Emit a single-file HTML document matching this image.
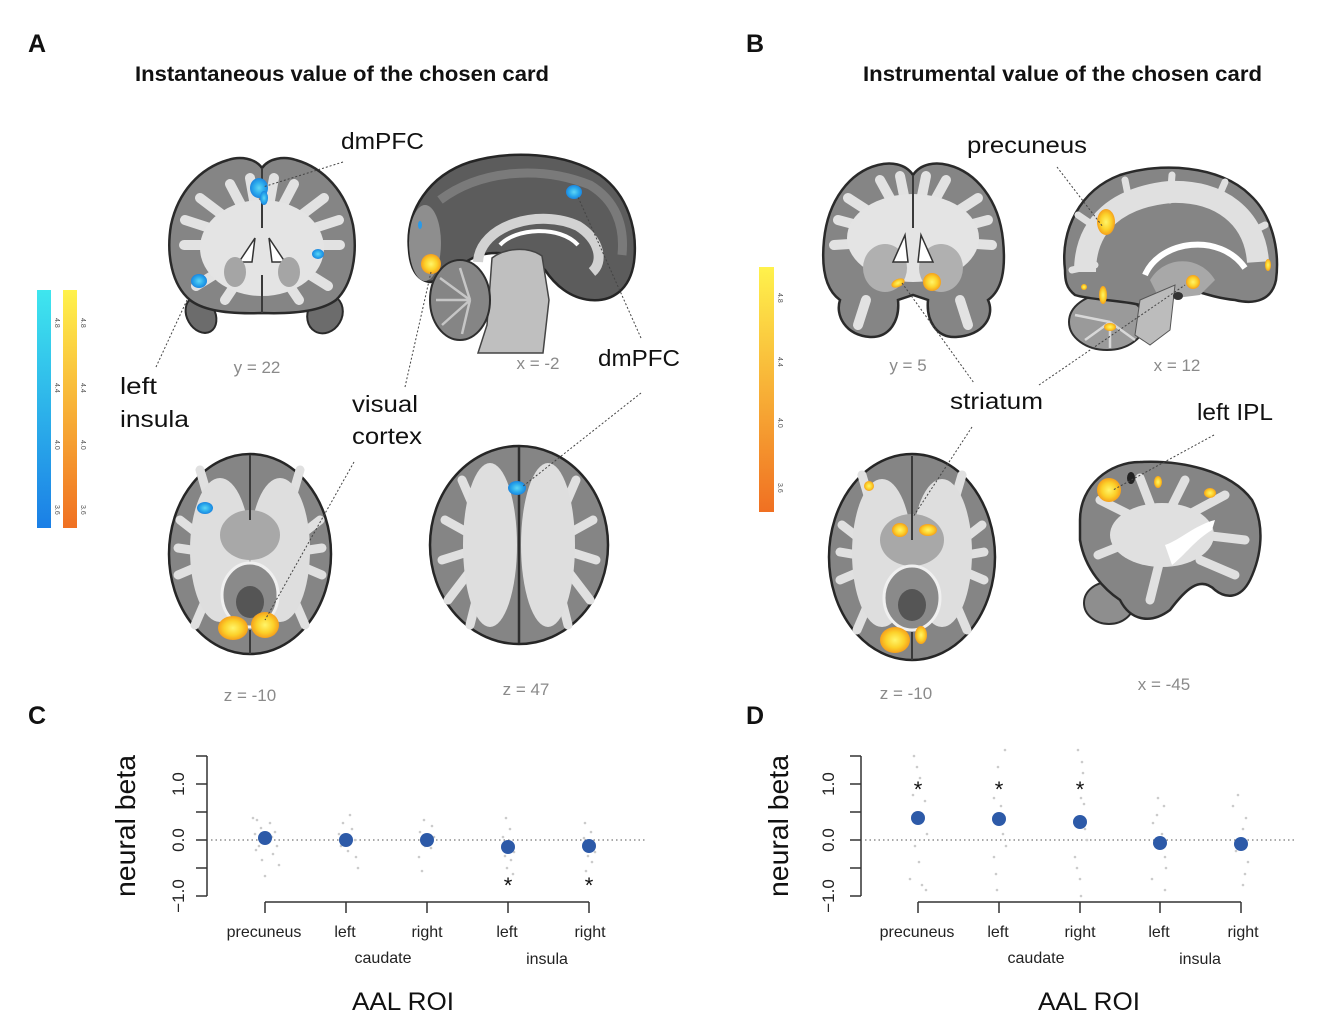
<!DOCTYPE html>
<html><head><meta charset="utf-8"><style>
html,body{margin:0;padding:0;background:#fff;}
svg{display:block;font-family:"Liberation Sans",Arial,sans-serif;}
</style></head><body>
<svg width="1318" height="1032" viewBox="0 0 1318 1032" xmlns="http://www.w3.org/2000/svg">
<defs>
<linearGradient id="gb" x1="0" y1="0" x2="0" y2="1"><stop offset="0" stop-color="#3fe6ee"/><stop offset="1" stop-color="#1b7fe6"/></linearGradient>
<linearGradient id="go" x1="0" y1="0" x2="0" y2="1"><stop offset="0" stop-color="#fff24c"/><stop offset="1" stop-color="#f07022"/></linearGradient>
<radialGradient id="ry"><stop offset="0" stop-color="#fff56a"/><stop offset="0.6" stop-color="#fcd12a"/><stop offset="1" stop-color="#f5a01c"/></radialGradient>
<radialGradient id="rb"><stop offset="0" stop-color="#5fd6f5"/><stop offset="0.6" stop-color="#2aa9ec"/><stop offset="1" stop-color="#1c86df"/></radialGradient>
</defs>
<rect width="1318" height="1032" fill="#fff"/>

<text x="28" y="52" font-size="25" font-weight="bold" fill="#111">A</text>
<text x="746" y="52" font-size="25" font-weight="bold" fill="#111">B</text>
<text x="28" y="724" font-size="25" font-weight="bold" fill="#111">C</text>
<text x="746" y="724" font-size="25" font-weight="bold" fill="#111">D</text>
<text x="135" y="81" font-size="21" font-weight="bold" fill="#111" textLength="414" lengthAdjust="spacingAndGlyphs">Instantaneous value of the chosen card</text>
<text x="863" y="81" font-size="21" font-weight="bold" fill="#111" textLength="399" lengthAdjust="spacingAndGlyphs">Instrumental value of the chosen card</text>

<rect x="37" y="290" width="14" height="238" fill="url(#gb)"/>
<rect x="63" y="290" width="14" height="238" fill="url(#go)"/>
<g font-size="7" fill="#555">
<text transform="translate(55,318) rotate(90)">4.8</text>
<text transform="translate(55,383) rotate(90)">4.4</text>
<text transform="translate(55,440) rotate(90)">4.0</text>
<text transform="translate(55,505) rotate(90)">3.6</text>
<text transform="translate(81,318) rotate(90)">4.8</text>
<text transform="translate(81,383) rotate(90)">4.4</text>
<text transform="translate(81,440) rotate(90)">4.0</text>
<text transform="translate(81,505) rotate(90)">3.6</text>
</g>
<rect x="759" y="267" width="15" height="245" fill="url(#go)"/>
<g font-size="7" fill="#555">
<text transform="translate(778,293) rotate(90)">4.8</text>
<text transform="translate(778,357) rotate(90)">4.4</text>
<text transform="translate(778,418) rotate(90)">4.0</text>
<text transform="translate(778,483) rotate(90)">3.6</text>
</g>

<!-- Coronal A -->
<g>
<ellipse cx="201" cy="315" rx="14" ry="19" transform="rotate(-30 201 315)" fill="#6c6c6c" stroke="#2a2a2a" stroke-width="2"/>
<ellipse cx="325" cy="314" rx="17" ry="20" transform="rotate(30 325 314)" fill="#6c6c6c" stroke="#2a2a2a" stroke-width="2"/>
<path d="M262,168 C255,158 240,156 228,160 C200,168 178,192 171,225 C166,255 172,285 190,300 C205,312 235,314 262,313 C290,314 320,312 336,300 C352,285 358,255 353,225 C346,192 324,168 296,160 C284,156 269,158 262,168 Z" fill="#858585" stroke="#2a2a2a" stroke-width="2.5"/>
<g stroke="#e2e2e2" stroke-width="10" stroke-linecap="round">
<line x1="262" y1="245" x2="200" y2="198"/><line x1="262" y1="245" x2="184" y2="245"/><line x1="262" y1="245" x2="196" y2="286"/>
<line x1="262" y1="245" x2="230" y2="184"/><line x1="262" y1="245" x2="250" y2="178"/><line x1="262" y1="245" x2="185" y2="220"/>
<line x1="262" y1="245" x2="324" y2="198"/><line x1="262" y1="245" x2="340" y2="245"/><line x1="262" y1="245" x2="328" y2="286"/>
<line x1="262" y1="245" x2="294" y2="184"/><line x1="262" y1="245" x2="274" y2="178"/><line x1="262" y1="245" x2="339" y2="220"/>
<line x1="262" y1="245" x2="225" y2="300"/><line x1="262" y1="245" x2="299" y2="300"/>
</g>
<ellipse cx="262" cy="248" rx="62" ry="48" fill="#e4e4e4"/>
<line x1="262" y1="168" x2="262" y2="228" stroke="#3a3a3a" stroke-width="2"/>
<line x1="262" y1="275" x2="262" y2="313" stroke="#3a3a3a" stroke-width="2"/>
<path d="M255,238 L239,262 L252,262 Z" fill="#fff" stroke="#333" stroke-width="1.5"/>
<path d="M269,238 L285,262 L272,262 Z" fill="#fff" stroke="#333" stroke-width="1.5"/>
<ellipse cx="235" cy="272" rx="11" ry="15" fill="#a5a5a5"/>
<ellipse cx="289" cy="272" rx="11" ry="15" fill="#a5a5a5"/>
<ellipse cx="259" cy="188" rx="9" ry="10" fill="url(#rb)"/>
<ellipse cx="264" cy="198" rx="4" ry="7" fill="url(#rb)"/>
<ellipse cx="199" cy="281" rx="8" ry="7" fill="url(#rb)"/>
<ellipse cx="318" cy="254" rx="6" ry="5" fill="url(#rb)"/>
</g>

<!-- Sagittal A -->
<g>
<path d="M409,250 C405,210 430,175 470,162 C510,150 565,152 600,175 C628,195 638,230 634,262 C630,290 612,302 590,300 C570,298 555,285 545,270 C530,255 500,250 480,255 C460,262 445,280 430,282 C415,280 410,265 409,250 Z" fill="#5c5c5c" stroke="#262626" stroke-width="2.5"/>
<path d="M440,200 C480,170 540,165 590,185 C615,200 625,225 622,255" fill="none" stroke="#7a7a7a" stroke-width="9"/>
<ellipse cx="425" cy="243" rx="16" ry="38" fill="#8e8e8e"/>
<path d="M478,262 C480,225 540,208 578,226 C600,240 604,262 592,272" fill="none" stroke="#d2d2d2" stroke-width="10"/>
<path d="M500,245 C515,228 560,225 578,245" fill="none" stroke="#ffffff" stroke-width="4"/>
<path d="M492,258 C505,248 528,246 542,256 L549,300 L543,353 L478,353 L487,325 Z" fill="#bfbfbf" stroke="#444" stroke-width="1.5"/>
<ellipse cx="460" cy="300" rx="30" ry="40" fill="#858585" stroke="#2e2e2e" stroke-width="2"/>
<g stroke="#c6c6c6" stroke-width="2.5">
<line x1="470" y1="300" x2="440" y2="278"/><line x1="470" y1="300" x2="436" y2="300"/><line x1="470" y1="300" x2="442" y2="325"/><line x1="470" y1="300" x2="460" y2="268"/><line x1="470" y1="300" x2="462" y2="334"/>
</g>
<ellipse cx="431" cy="264" rx="10" ry="10" fill="url(#ry)"/>
<ellipse cx="574" cy="192" rx="8" ry="7" fill="url(#rb)"/>
<ellipse cx="420" cy="225" rx="2" ry="4" fill="#2a9ae8"/>
</g>

<!-- Axial A z=-10 -->
<g>
<ellipse cx="250" cy="554" rx="81" ry="100" fill="#858585" stroke="#262626" stroke-width="2.5"/>
<g stroke="#e0e0e0" stroke-width="9" stroke-linecap="round">
<line x1="225" y1="555" x2="180" y2="520"/><line x1="225" y1="555" x2="178" y2="575"/><line x1="225" y1="555" x2="200" y2="470"/><line x1="225" y1="555" x2="195" y2="625"/><line x1="225" y1="555" x2="178" y2="548"/>
<line x1="275" y1="555" x2="320" y2="520"/><line x1="275" y1="555" x2="322" y2="575"/><line x1="275" y1="555" x2="300" y2="470"/><line x1="275" y1="555" x2="305" y2="625"/><line x1="275" y1="555" x2="322" y2="548"/>
</g>
<ellipse cx="220" cy="550" rx="30" ry="72" fill="#dedede"/>
<ellipse cx="280" cy="550" rx="30" ry="72" fill="#dedede"/>
<ellipse cx="250" cy="535" rx="30" ry="25" fill="#a8a8a8"/>
<ellipse cx="250" cy="595" rx="28" ry="32" fill="#8a8a8a" stroke="#f0f0f0" stroke-width="3"/>
<ellipse cx="250" cy="602" rx="14" ry="16" fill="#555"/>
<line x1="250" y1="455" x2="250" y2="520" stroke="#3a3a3a" stroke-width="2"/>
<line x1="250" y1="630" x2="250" y2="654" stroke="#3a3a3a" stroke-width="2"/>
<ellipse cx="233" cy="628" rx="15" ry="12" fill="url(#ry)"/>
<ellipse cx="265" cy="625" rx="14" ry="13" fill="url(#ry)"/>
<ellipse cx="205" cy="508" rx="8" ry="6" fill="url(#rb)"/>
</g>

<!-- Axial A z=47 -->
<g>
<ellipse cx="519" cy="545" rx="89" ry="99" fill="#858585" stroke="#262626" stroke-width="2.5"/>
<g stroke="#e0e0e0" stroke-width="9" stroke-linecap="round">
<line x1="490" y1="545" x2="445" y2="520"/><line x1="490" y1="545" x2="442" y2="560"/><line x1="490" y1="545" x2="448" y2="600"/><line x1="490" y1="545" x2="462" y2="480"/><line x1="490" y1="545" x2="470" y2="625"/>
<line x1="548" y1="545" x2="593" y2="520"/><line x1="548" y1="545" x2="596" y2="560"/><line x1="548" y1="545" x2="590" y2="600"/><line x1="548" y1="545" x2="576" y2="480"/><line x1="548" y1="545" x2="568" y2="625"/>
</g>
<ellipse cx="490" cy="545" rx="27" ry="82" fill="#dedede"/>
<ellipse cx="548" cy="545" rx="27" ry="82" fill="#dedede"/>
<line x1="519" y1="447" x2="519" y2="643" stroke="#2e2e2e" stroke-width="2.5"/>
<ellipse cx="517" cy="488" rx="9" ry="7" fill="url(#rb)"/>
</g>

<!-- Coronal B -->
<g>
<path d="M913,175 C905,163 890,162 878,165 C850,172 828,200 824,240 C821,270 826,290 840,300 C835,315 845,335 870,337 C890,338 900,320 898,300 L913,295 L928,300 C926,320 936,338 956,337 C985,335 995,315 988,300 C1002,290 1006,270 1003,240 C999,200 976,172 948,165 C936,162 921,163 913,175 Z" fill="#858585" stroke="#2a2a2a" stroke-width="2.5"/>
<g stroke="#e2e2e2" stroke-width="10" stroke-linecap="round">
<line x1="913" y1="240" x2="848" y2="198"/><line x1="913" y1="240" x2="834" y2="245"/><line x1="913" y1="240" x2="880" y2="180"/><line x1="913" y1="240" x2="900" y2="176"/><line x1="913" y1="240" x2="838" y2="220"/>
<line x1="913" y1="240" x2="978" y2="198"/><line x1="913" y1="240" x2="992" y2="245"/><line x1="913" y1="240" x2="946" y2="180"/><line x1="913" y1="240" x2="926" y2="176"/><line x1="913" y1="240" x2="988" y2="220"/>
<line x1="866" y1="300" x2="858" y2="325"/><line x1="960" y1="300" x2="968" y2="325"/>
</g>
<ellipse cx="913" cy="238" rx="66" ry="44" fill="#e4e4e4"/>
<ellipse cx="885" cy="268" rx="22" ry="24" fill="#b0b0b0"/>
<ellipse cx="941" cy="268" rx="22" ry="24" fill="#b0b0b0"/>
<line x1="913" y1="175" x2="913" y2="228" stroke="#3a3a3a" stroke-width="2"/>
<path d="M905,235 L893,262 L908,262 Z" fill="#fff" stroke="#333" stroke-width="1.5"/>
<path d="M921,235 L933,262 L918,262 Z" fill="#fff" stroke="#333" stroke-width="1.5"/>
<ellipse cx="898" cy="283" rx="7" ry="4" transform="rotate(-25 898 283)" fill="url(#ry)"/>
<ellipse cx="932" cy="282" rx="9" ry="9" fill="url(#ry)"/>
</g>

<!-- Sagittal B -->
<g>
<ellipse cx="1107" cy="322" rx="38" ry="28" fill="#9a9a9a" stroke="#2e2e2e" stroke-width="2"/>
<g stroke="#d8d8d8" stroke-width="2.5">
<line x1="1110" y1="322" x2="1075" y2="315"/><line x1="1110" y1="322" x2="1085" y2="340"/><line x1="1110" y1="322" x2="1110" y2="348"/><line x1="1110" y1="322" x2="1135" y2="340"/>
</g>
<path d="M1065,270 C1060,230 1080,190 1120,175 C1160,162 1220,165 1250,195 C1272,215 1280,250 1276,280 C1272,300 1255,305 1235,300 C1215,298 1200,292 1185,288 C1170,285 1150,300 1140,305 C1120,300 1090,300 1075,295 C1066,288 1065,280 1065,270 Z" fill="#858585" stroke="#2a2a2a" stroke-width="2.5"/>
<path d="M1085,272 C1085,222 1120,197 1170,192 C1220,190 1255,217 1258,262" fill="none" stroke="#e0e0e0" stroke-width="22"/>
<g stroke="#e0e0e0" stroke-width="7" stroke-linecap="round">
<line x1="1100" y1="230" x2="1078" y2="215"/><line x1="1130" y1="205" x2="1125" y2="180"/><line x1="1170" y1="200" x2="1172" y2="175"/><line x1="1215" y1="205" x2="1225" y2="182"/><line x1="1245" y1="235" x2="1265" y2="225"/><line x1="1095" y1="265" x2="1072" y2="270"/>
</g>
<path d="M1145,275 C1160,240 1220,232 1245,268" fill="none" stroke="#ffffff" stroke-width="6"/>
<path d="M1150,280 C1165,255 1200,255 1215,280 L1200,295 L1160,300 Z" fill="#a8a8a8"/>
<path d="M1140,300 L1175,285 L1170,330 L1150,345 L1135,335 Z" fill="#bcbcbc" stroke="#555" stroke-width="1"/>
<ellipse cx="1106" cy="222" rx="9" ry="13" fill="url(#ry)"/>
<ellipse cx="1103" cy="295" rx="4" ry="9" fill="url(#ry)"/>
<ellipse cx="1110" cy="327" rx="6" ry="4" fill="url(#ry)"/>
<ellipse cx="1193" cy="282" rx="7" ry="7" fill="url(#ry)"/>
<ellipse cx="1268" cy="265" rx="3" ry="6" fill="url(#ry)"/>
<ellipse cx="1084" cy="287" rx="3" ry="3" fill="url(#ry)"/>
<ellipse cx="1178" cy="296" rx="5" ry="4" fill="#333"/>
</g>

<!-- Axial B -->
<g>
<ellipse cx="912" cy="557" rx="83" ry="103" fill="#858585" stroke="#262626" stroke-width="2.5"/>
<g stroke="#e0e0e0" stroke-width="9" stroke-linecap="round">
<line x1="887" y1="560" x2="842" y2="525"/><line x1="887" y1="560" x2="840" y2="580"/><line x1="887" y1="560" x2="862" y2="475"/><line x1="887" y1="560" x2="857" y2="630"/><line x1="887" y1="560" x2="840" y2="552"/>
<line x1="937" y1="560" x2="982" y2="525"/><line x1="937" y1="560" x2="984" y2="580"/><line x1="937" y1="560" x2="962" y2="475"/><line x1="937" y1="560" x2="967" y2="630"/><line x1="937" y1="560" x2="984" y2="552"/>
</g>
<ellipse cx="882" cy="553" rx="30" ry="74" fill="#dedede"/>
<ellipse cx="942" cy="553" rx="30" ry="74" fill="#dedede"/>
<ellipse cx="912" cy="540" rx="32" ry="26" fill="#a8a8a8"/>
<ellipse cx="912" cy="598" rx="28" ry="32" fill="#8a8a8a" stroke="#f0f0f0" stroke-width="3"/>
<ellipse cx="912" cy="605" rx="14" ry="16" fill="#555"/>
<line x1="912" y1="456" x2="912" y2="540" stroke="#3a3a3a" stroke-width="2"/>
<line x1="912" y1="632" x2="912" y2="660" stroke="#3a3a3a" stroke-width="2"/>
<ellipse cx="869" cy="486" rx="5" ry="5" fill="url(#ry)"/>
<ellipse cx="900" cy="530" rx="8" ry="7" fill="url(#ry)"/>
<ellipse cx="928" cy="530" rx="9" ry="6" fill="url(#ry)"/>
<ellipse cx="895" cy="640" rx="15" ry="13" fill="url(#ry)"/>
<ellipse cx="921" cy="635" rx="6" ry="9" fill="url(#ry)"/>
</g>

<!-- Lateral sagittal B -->
<g>
<ellipse cx="1109" cy="603" rx="25" ry="21" fill="#8e8e8e" stroke="#2e2e2e" stroke-width="2"/>
<path d="M1080,520 C1080,485 1110,462 1140,462 C1180,460 1230,470 1252,500 C1265,525 1262,555 1250,580 C1240,600 1225,598 1215,590 C1200,575 1185,590 1170,610 C1150,625 1130,620 1120,600 C1105,590 1085,570 1080,540 Z" fill="#858585" stroke="#2a2a2a" stroke-width="2.5"/>
<g stroke="#e0e0e0" stroke-width="9" stroke-linecap="round">
<line x1="1160" y1="530" x2="1100" y2="500"/><line x1="1160" y1="530" x2="1140" y2="478"/><line x1="1160" y1="530" x2="1185" y2="480"/><line x1="1160" y1="530" x2="1225" y2="495"/><line x1="1160" y1="530" x2="1245" y2="540"/><line x1="1160" y1="530" x2="1098" y2="555"/><line x1="1160" y1="560" x2="1150" y2="600"/><line x1="1200" y1="560" x2="1235" y2="575"/>
</g>
<ellipse cx="1162" cy="535" rx="52" ry="32" fill="#e0e0e0"/>
<path d="M1165,545 C1180,540 1195,525 1215,520 L1212,530 C1195,540 1185,555 1172,565 Z" fill="#fff"/>
<ellipse cx="1109" cy="490" rx="12" ry="12" fill="url(#ry)"/>
<ellipse cx="1158" cy="482" rx="4" ry="6" fill="url(#ry)"/>
<ellipse cx="1210" cy="493" rx="6" ry="5" fill="url(#ry)"/>
<ellipse cx="1131" cy="478" rx="4" ry="6" fill="#222"/>
</g>

<g stroke="#444" stroke-width="1" stroke-dasharray="2,2" fill="none">
<line x1="343" y1="162" x2="263" y2="187"/>
<line x1="156" y1="367" x2="187" y2="300"/>
<line x1="405" y1="387" x2="431" y2="272"/>
<line x1="641" y1="338" x2="578" y2="197"/>
<line x1="641" y1="393" x2="522" y2="487"/>
<line x1="354" y1="462" x2="265" y2="620"/>
<line x1="1057" y1="167" x2="1103" y2="227"/>
<line x1="902" y1="283" x2="974" y2="383"/>
<line x1="1039" y1="385" x2="1185" y2="285"/>
<line x1="972" y1="427" x2="913" y2="517"/>
<line x1="1214" y1="435" x2="1113" y2="490"/>
</g>

<g font-size="23" fill="#111">
<text x="341" y="149" textLength="83" lengthAdjust="spacingAndGlyphs">dmPFC</text>
<text x="120" y="394" textLength="37" lengthAdjust="spacingAndGlyphs">left</text>
<text x="120" y="427" textLength="69" lengthAdjust="spacingAndGlyphs">insula</text>
<text x="352" y="412" textLength="66" lengthAdjust="spacingAndGlyphs">visual</text>
<text x="352" y="444" textLength="70" lengthAdjust="spacingAndGlyphs">cortex</text>
<text x="598" y="366" textLength="82" lengthAdjust="spacingAndGlyphs">dmPFC</text>
<text x="967" y="153" textLength="120" lengthAdjust="spacingAndGlyphs">precuneus</text>
<text x="950" y="409" textLength="93" lengthAdjust="spacingAndGlyphs">striatum</text>
<text x="1197" y="420" textLength="76" lengthAdjust="spacingAndGlyphs">left IPL</text>
</g>
<g font-size="17" fill="#8a8a8a" text-anchor="middle">
<text x="257" y="373">y = 22</text>
<text x="538" y="369">x = -2</text>
<text x="250" y="701">z = -10</text>
<text x="526" y="695">z = 47</text>
<text x="908" y="371">y = 5</text>
<text x="1177" y="371">x = 12</text>
<text x="906" y="699">z = -10</text>
<text x="1164" y="690">x = -45</text>
</g>

<!-- Chart C -->
<g>
<g stroke="#333" stroke-width="1.5" fill="none">
<line x1="207" y1="756" x2="207" y2="896"/>
<line x1="196" y1="756" x2="207" y2="756"/><line x1="196" y1="784" x2="207" y2="784"/><line x1="196" y1="812" x2="207" y2="812"/><line x1="196" y1="840" x2="207" y2="840"/><line x1="196" y1="868" x2="207" y2="868"/><line x1="196" y1="896" x2="207" y2="896"/>
<line x1="265" y1="902" x2="589" y2="902"/>
<line x1="265" y1="902" x2="265" y2="913"/><line x1="346" y1="902" x2="346" y2="913"/><line x1="427" y1="902" x2="427" y2="913"/><line x1="508" y1="902" x2="508" y2="913"/><line x1="589" y1="902" x2="589" y2="913"/>
</g>
<line x1="211" y1="840" x2="645" y2="840" stroke="#777" stroke-width="1.2" stroke-dasharray="1.5,3"/>
<g font-size="17" fill="#222" text-anchor="middle">
<text transform="translate(184,784) rotate(-90)">1.0</text>
<text transform="translate(184,840) rotate(-90)">0.0</text>
<text transform="translate(184,896) rotate(-90)">−1.0</text>
</g>
<text transform="translate(135,826) rotate(-90)" font-size="28" fill="#111" text-anchor="middle" textLength="142" lengthAdjust="spacingAndGlyphs">neural beta</text>
<g font-size="16" fill="#222" text-anchor="middle">
<text x="264" y="937">precuneus</text>
<text x="345" y="937">left</text>
<text x="427" y="937">right</text>
<text x="507" y="937">left</text>
<text x="590" y="937">right</text>
<text x="383" y="963">caudate</text>
<text x="547" y="964">insula</text>
</g>
<text x="403" y="1010" font-size="25" fill="#111" text-anchor="middle" textLength="102" lengthAdjust="spacingAndGlyphs">AAL ROI</text>
<g fill="#cbcbcb">
<circle cx="253" cy="818" r="1.3"/><circle cx="257" cy="820" r="1.3"/><circle cx="270" cy="823" r="1.3"/><circle cx="261" cy="828" r="1.3"/><circle cx="275" cy="832" r="1.3"/><circle cx="255" cy="834" r="1.3"/><circle cx="272" cy="837" r="1.3"/><circle cx="259" cy="846" r="1.3"/><circle cx="277" cy="846" r="1.3"/><circle cx="256" cy="850" r="1.3"/><circle cx="273" cy="854" r="1.3"/><circle cx="262" cy="860" r="1.3"/><circle cx="279" cy="865" r="1.3"/><circle cx="265" cy="876" r="1.3"/>
<circle cx="350" cy="815" r="1.3"/><circle cx="343" cy="823" r="1.3"/><circle cx="352" cy="829" r="1.3"/><circle cx="339" cy="834" r="1.3"/><circle cx="355" cy="840" r="1.3"/><circle cx="341" cy="846" r="1.3"/><circle cx="348" cy="851" r="1.3"/><circle cx="356" cy="857" r="1.3"/><circle cx="358" cy="868" r="1.3"/>
<circle cx="424" cy="820" r="1.3"/><circle cx="432" cy="826" r="1.3"/><circle cx="420" cy="832" r="1.3"/><circle cx="434" cy="837" r="1.3"/><circle cx="425" cy="846" r="1.3"/><circle cx="431" cy="848" r="1.3"/><circle cx="419" cy="857" r="1.3"/><circle cx="422" cy="871" r="1.3"/>
<circle cx="506" cy="818" r="1.3"/><circle cx="510" cy="829" r="1.3"/><circle cx="503" cy="837" r="1.3"/><circle cx="514" cy="852" r="1.3"/><circle cx="505" cy="856" r="1.3"/><circle cx="511" cy="860" r="1.3"/><circle cx="507" cy="868" r="1.3"/><circle cx="513" cy="874" r="1.3"/>
<circle cx="585" cy="823" r="1.3"/><circle cx="591" cy="832" r="1.3"/><circle cx="584" cy="838" r="1.3"/><circle cx="595" cy="852" r="1.3"/><circle cx="588" cy="856" r="1.3"/><circle cx="592" cy="862" r="1.3"/><circle cx="586" cy="871" r="1.3"/>
</g>
<g fill="#2d5aa8">
<circle cx="265" cy="838" r="7"/><circle cx="346" cy="840" r="7"/><circle cx="427" cy="840" r="7"/><circle cx="508" cy="847" r="7"/><circle cx="589" cy="846" r="7"/>
</g>
<g font-size="22" fill="#111" text-anchor="middle">
<text x="508" y="893">*</text><text x="589" y="893">*</text>
</g>
</g>

<!-- Chart D -->
<g>
<g stroke="#333" stroke-width="1.5" fill="none">
<line x1="861" y1="756" x2="861" y2="896"/>
<line x1="850" y1="756" x2="861" y2="756"/><line x1="850" y1="784" x2="861" y2="784"/><line x1="850" y1="812" x2="861" y2="812"/><line x1="850" y1="840" x2="861" y2="840"/><line x1="850" y1="868" x2="861" y2="868"/><line x1="850" y1="896" x2="861" y2="896"/>
<line x1="918" y1="902" x2="1241" y2="902"/>
<line x1="918" y1="902" x2="918" y2="913"/><line x1="999" y1="902" x2="999" y2="913"/><line x1="1080" y1="902" x2="1080" y2="913"/><line x1="1160" y1="902" x2="1160" y2="913"/><line x1="1241" y1="902" x2="1241" y2="913"/>
</g>
<line x1="865" y1="840" x2="1296" y2="840" stroke="#777" stroke-width="1.2" stroke-dasharray="1.5,3"/>
<g font-size="17" fill="#222" text-anchor="middle">
<text transform="translate(834,784) rotate(-90)">1.0</text>
<text transform="translate(834,840) rotate(-90)">0.0</text>
<text transform="translate(834,896) rotate(-90)">−1.0</text>
</g>
<text transform="translate(788,826) rotate(-90)" font-size="28" fill="#111" text-anchor="middle" textLength="142" lengthAdjust="spacingAndGlyphs">neural beta</text>
<g font-size="16" fill="#222" text-anchor="middle">
<text x="917" y="937">precuneus</text>
<text x="998" y="937">left</text>
<text x="1080" y="937">right</text>
<text x="1159" y="937">left</text>
<text x="1243" y="937">right</text>
<text x="1036" y="963">caudate</text>
<text x="1200" y="964">insula</text>
</g>
<text x="1089" y="1010" font-size="25" fill="#111" text-anchor="middle" textLength="102" lengthAdjust="spacingAndGlyphs">AAL ROI</text>
<g fill="#cbcbcb">
<circle cx="914" cy="756" r="1.3"/><circle cx="917" cy="767" r="1.3"/><circle cx="920" cy="778" r="1.3"/><circle cx="913" cy="795" r="1.3"/><circle cx="925" cy="801" r="1.3"/><circle cx="927" cy="834" r="1.3"/><circle cx="915" cy="846" r="1.3"/><circle cx="919" cy="862" r="1.3"/><circle cx="910" cy="879" r="1.3"/><circle cx="922" cy="885" r="1.3"/><circle cx="926" cy="890" r="1.3"/>
<circle cx="1005" cy="750" r="1.3"/><circle cx="998" cy="767" r="1.3"/><circle cx="994" cy="798" r="1.3"/><circle cx="1001" cy="806" r="1.3"/><circle cx="1003" cy="834" r="1.3"/><circle cx="1006" cy="846" r="1.3"/><circle cx="994" cy="857" r="1.3"/><circle cx="996" cy="874" r="1.3"/><circle cx="997" cy="890" r="1.3"/>
<circle cx="1078" cy="750" r="1.3"/><circle cx="1082" cy="762" r="1.3"/><circle cx="1083" cy="773" r="1.3"/><circle cx="1081" cy="798" r="1.3"/><circle cx="1084" cy="804" r="1.3"/><circle cx="1085" cy="829" r="1.3"/><circle cx="1087" cy="840" r="1.3"/><circle cx="1075" cy="857" r="1.3"/><circle cx="1077" cy="868" r="1.3"/><circle cx="1080" cy="879" r="1.3"/><circle cx="1081" cy="896" r="1.3"/>
<circle cx="1158" cy="798" r="1.3"/><circle cx="1164" cy="806" r="1.3"/><circle cx="1157" cy="815" r="1.3"/><circle cx="1153" cy="823" r="1.3"/><circle cx="1162" cy="834" r="1.3"/><circle cx="1165" cy="857" r="1.3"/><circle cx="1166" cy="868" r="1.3"/><circle cx="1152" cy="879" r="1.3"/><circle cx="1165" cy="890" r="1.3"/>
<circle cx="1238" cy="795" r="1.3"/><circle cx="1233" cy="806" r="1.3"/><circle cx="1246" cy="818" r="1.3"/><circle cx="1243" cy="829" r="1.3"/><circle cx="1236" cy="851" r="1.3"/><circle cx="1248" cy="862" r="1.3"/><circle cx="1245" cy="874" r="1.3"/><circle cx="1243" cy="885" r="1.3"/>
</g>
<g fill="#2d5aa8">
<circle cx="918" cy="818" r="7"/><circle cx="999" cy="819" r="7"/><circle cx="1080" cy="822" r="7"/><circle cx="1160" cy="843" r="7"/><circle cx="1241" cy="844" r="7"/>
</g>
<g font-size="22" fill="#111" text-anchor="middle">
<text x="918" y="797">*</text><text x="999" y="797">*</text><text x="1080" y="797">*</text>
</g>
</g>
</svg>
</body></html>
